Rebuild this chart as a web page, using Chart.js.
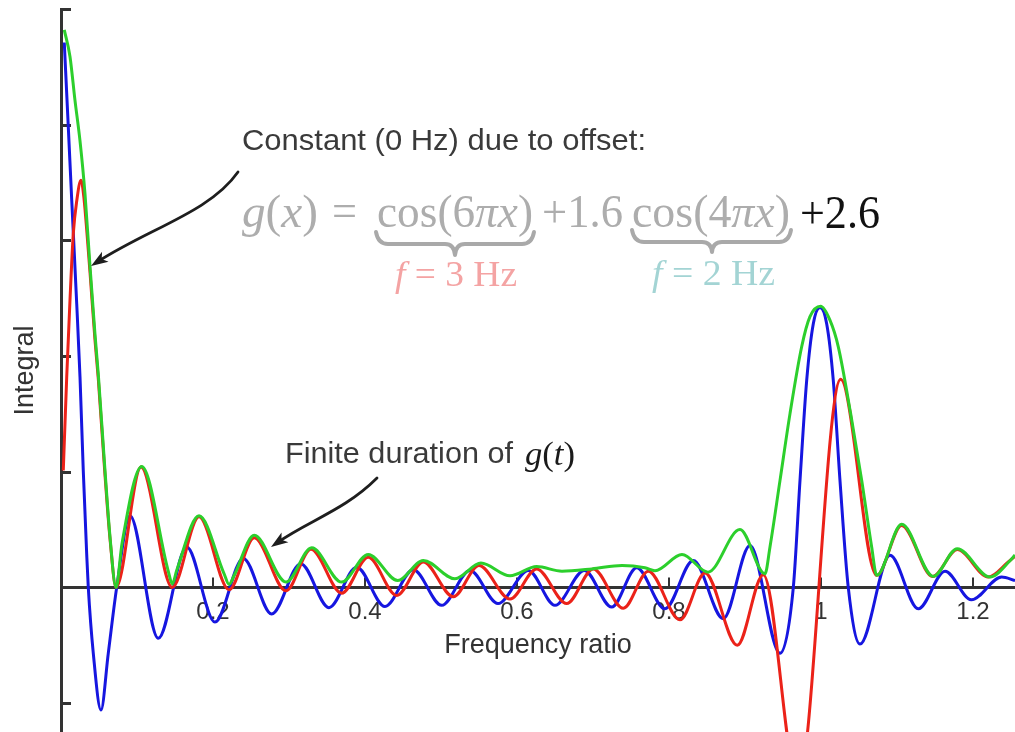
<!DOCTYPE html>
<html><head><meta charset="utf-8">
<script src="https://cdn.jsdelivr.net/npm/chart.js@4.4.1/dist/chart.umd.min.js"></script>
<style>html,body{margin:0;padding:0;background:#fff;overflow:hidden}canvas{display:block}</style>
</head><body>
<canvas id="c" width="1015" height="732"></canvas>
<script>
// ---- tick values / labels ----
const xTicks = [0.2, 0.4, 0.6, 0.8, 1, 1.2];
const xTickLabels = ['0.2', '0.4', '0.6', '0.8', '1', '1.2'];
const yTicks = [-1, 1, 2, 3, 4, 5];

// ---- real part (blue) ----
const realX = [0.0043,0.0096,0.0141,0.0207,0.0250,0.0293,0.0338,0.0359,0.0425,0.0526,0.0622,0.0733,0.0908,0.1280,0.1654,0.2026,0.2399,0.2772,0.3154,0.3526,0.3891,0.4263,0.4636,0.5009,0.5382,0.5750,0.6149,0.6500,0.6886,0.7246,0.7575,0.7947,0.8320,0.8714,0.9066,0.9461,0.9636,0.9724,0.9812,0.9899,0.9987,1.0075,1.0162,1.0250,1.0359,1.0513,1.0908,1.1280,1.1632,1.1978,1.2378,1.2553];
const realY = [4.71,3.98,3.35,2.45,1.82,1.01,0.29,0.0,-0.57,-1.06,-0.57,0.0,0.62,-0.44,0.35,-0.30,0.25,-0.23,0.205,-0.175,0.175,-0.165,0.153,-0.155,0.147,-0.14,0.147,-0.155,0.147,-0.17,0.17,-0.185,0.233,-0.27,0.363,-0.57,0.0,0.925,1.79,2.28,2.42,2.28,1.79,0.925,0.0,-0.49,0.277,-0.185,0.14,-0.107,0.09,0.06];

// ---- imaginary part (red) ----
const imagX = [0.0030,0.0075,0.0118,0.0162,0.0207,0.0263,0.0303,0.0342,0.0382,0.0447,0.0491,0.0579,0.0645,0.0724,0.1053,0.1464,0.1816,0.2211,0.2543,0.2961,0.3289,0.3693,0.4043,0.4417,0.4767,0.5162,0.5500,0.5908,0.6259,0.6654,0.7004,0.7399,0.7728,0.8145,0.8474,0.8899,0.9241,0.9697,1.0259,1.0733,1.1062,1.1470,1.1793,1.2201,1.2464,1.2553];
const imagY = [1.01,1.815,2.48,3.06,3.34,3.52,3.36,3.06,2.72,2.14,1.80,0.97,0.42,0.0,1.04,0.0,0.61,-0.02,0.43,-0.03,0.33,-0.05,0.26,-0.07,0.22,-0.08,0.19,-0.10,0.16,-0.14,0.16,-0.18,0.14,-0.28,0.124,-0.50,0.11,-1.70,1.80,0.104,0.536,0.095,0.327,0.09,0.22,0.27];

// ---- magnitude (green) ----
const magX = [0.0043,0.0118,0.0184,0.0250,0.0316,0.0382,0.0447,0.0491,0.0579,0.0645,0.0724,0.0803,0.1062,0.1408,0.1464,0.1524,0.1816,0.2145,0.2211,0.2276,0.2543,0.2961,0.3299,0.3693,0.4043,0.4430,0.4767,0.5184,0.5526,0.5908,0.6259,0.6592,0.6987,0.7382,0.7684,0.7816,0.8171,0.8513,0.8934,0.9263,0.9329,0.9461,0.9592,0.9746,0.9855,0.9996,1.0118,1.0228,1.0391,1.0536,1.0667,1.0733,1.1062,1.1478,1.1793,1.2224,1.2487,1.2553];
const magY = [4.82,4.59,4.21,3.86,3.40,2.77,2.19,1.84,1.01,0.435,0.0,0.38,1.045,0.15,0.03,0.15,0.62,0.12,0.026,0.10,0.45,0.046,0.343,0.046,0.285,0.06,0.233,0.075,0.21,0.10,0.18,0.14,0.16,0.19,0.17,0.145,0.285,0.132,0.50,0.118,0.35,0.925,1.50,2.08,2.34,2.43,2.31,2.08,1.50,0.925,0.35,0.104,0.545,0.095,0.335,0.09,0.23,0.28];

const SANS = '"Liberation Sans", Arial, Helvetica, sans-serif';
const SERIF = '"Liberation Serif", "DejaVu Serif", serif';
const TXT = '#333333';

function pts(xs, ys) {
  const n = Math.min(xs.length, ys.length);
  const out = [];
  for (let i = 0; i < n; i++) out.push({x: xs[i], y: ys[i]});
  return out;
}

function drawRuns(ctx, runs, x, y, width, size, color, fam) {
  ctx.save();
  const fonts = runs.map(r => (r[1] ? 'italic ' : '') + size + 'px ' + fam);
  const ws = runs.map((r, i) => { ctx.font = fonts[i]; return ctx.measureText(r[0]).width; });
  const total = ws.reduce((a, b) => a + b, 0);
  ctx.translate(x, y);
  ctx.scale(width / total, 1);
  ctx.fillStyle = color;
  ctx.textBaseline = 'alphabetic';
  ctx.textAlign = 'left';
  let cx = 0;
  runs.forEach((r, i) => { ctx.font = fonts[i]; ctx.fillText(r[0], cx, 0); cx += ws[i]; });
  ctx.restore();
}

function brace(ctx, x1, x2, xm, yTop, yMid, yTip) {
  ctx.beginPath();
  ctx.moveTo(x1, yTop);
  ctx.quadraticCurveTo(x1 + 2, yMid, x1 + 12, yMid);
  ctx.lineTo(xm - 10, yMid);
  ctx.quadraticCurveTo(xm - 1, yMid, xm, yTip);
  ctx.quadraticCurveTo(xm + 1, yMid, xm + 10, yMid);
  ctx.lineTo(x2 - 12, yMid);
  ctx.quadraticCurveTo(x2 - 2, yMid, x2, yTop);
  ctx.stroke();
}

function arrow(ctx, p0, p1, p2, p3) {
  const dx = p3[0] - p2[0], dy = p3[1] - p2[1];
  const L = Math.hypot(dx, dy), ux = dx / L, uy = dy / L;
  const hl = 17, hw = 6;
  ctx.beginPath();
  ctx.moveTo(p0[0], p0[1]);
  ctx.bezierCurveTo(p1[0], p1[1], p2[0], p2[1], p3[0] - ux * 8, p3[1] - uy * 8);
  ctx.stroke();
  const bx = p3[0] - ux * hl, by = p3[1] - uy * hl;
  ctx.beginPath();
  ctx.moveTo(p3[0], p3[1]);
  ctx.lineTo(bx - uy * hw, by + ux * hw);
  ctx.lineTo(p3[0] - ux * hl * 0.75, p3[1] - uy * hl * 0.75);
  ctx.lineTo(bx + uy * hw, by - ux * hw);
  ctx.closePath();
  ctx.fill();
}

const decor = {
  id: 'decor',
  beforeDatasetsDraw(chart) {
    const ctx = chart.ctx, xs = chart.scales.x, ys = chart.scales.y;
    const left = chart.chartArea.left;
    ctx.save();
    ctx.strokeStyle = TXT;
    ctx.lineWidth = 3;
    ys.ticks.forEach(t => {
      const py = Math.round(ys.getPixelForValue(t.value)) + 0.5;
      ctx.beginPath(); ctx.moveTo(left - 1, py); ctx.lineTo(left + 10, py); ctx.stroke();
    });
    const y0 = ys.getPixelForValue(0);
    ctx.lineWidth = 2;
    xs.ticks.forEach(t => {
      const px = Math.round(xs.getPixelForValue(t.value));
      ctx.beginPath(); ctx.moveTo(px, y0); ctx.lineTo(px, y0 - 10); ctx.stroke();
    });
    ctx.restore();
  },
  afterDraw(chart) {
    const ctx = chart.ctx;
    ctx.save();
    // annotation texts
    drawRuns(ctx, [['Constant (0 Hz) due to offset:', false]], 242, 150, 404, 30, '#3a3a3a', SANS);
    drawRuns(ctx, [['Finite duration of', false]], 285, 463, 228, 30, '#3a3a3a', SANS);
    drawRuns(ctx, [['g', true], ['(', false], ['t', true], [')', false]], 525, 465, 50, 34, '#1a1a1a', SERIF);
    // formula
    const gray = '#adadad';
    drawRuns(ctx, [['g', true], ['(', false], ['x', true], [')', false]], 242, 227, 76, 46, gray, SERIF);
    drawRuns(ctx, [['=', false]], 332, 226, 25, 46, gray, SERIF);
    drawRuns(ctx, [['cos(6', false], ['\u03C0x', true], [')', false]], 377, 227, 156, 46, gray, SERIF);
    drawRuns(ctx, [['+1.6', false]], 542, 227, 81, 46, gray, SERIF);
    drawRuns(ctx, [['cos(4', false], ['\u03C0x', true], [')', false]], 632, 227, 158, 46, gray, SERIF);
    drawRuns(ctx, [['+2.6', false]], 800, 228, 80, 46, '#111111', SERIF);
    drawRuns(ctx, [['f', true], [' = 3 Hz', false]], 395, 286, 122, 35, '#f4a3a3', SERIF);
    drawRuns(ctx, [['f', true], [' = 2 Hz', false]], 652, 285, 123, 35, '#a3d4d4', SERIF);
    // braces
    ctx.strokeStyle = '#a9a9a9';
    ctx.lineWidth = 4;
    ctx.lineCap = 'round';
    ctx.lineJoin = 'round';
    brace(ctx, 376, 534, 455, 232, 244, 255);
    brace(ctx, 632, 791, 712, 230, 242, 252);
    // arrows
    ctx.strokeStyle = '#1e1e1e';
    ctx.fillStyle = '#1e1e1e';
    ctx.lineWidth = 2.8;
    arrow(ctx, [238, 172], [210, 212], [150, 228], [91, 266]);
    arrow(ctx, [377, 478], [345, 510], [310, 520], [271, 547]);
    ctx.restore();
  }
};

new Chart(document.getElementById('c'), {
  type: 'line',
  data: {
    datasets: [
      { label: 'Magnitude', data: pts(magX, magY), borderColor: '#2ccf2c', order: 0 },
      { label: 'Imaginary', data: pts(imagX, imagY), borderColor: '#eb2219', order: 1 },
      { label: 'Real', data: pts(realX, realY), borderColor: '#1616e0', order: 2 }
    ]
  },
  options: {
    responsive: false,
    animation: false,
    devicePixelRatio: 1,
    layout: { padding: { top: 9, left: 0, right: 0, bottom: 0 } },
    elements: {
      point: { radius: 0 },
      line: { borderWidth: 3, cubicInterpolationMode: 'monotone', fill: false }
    },
    plugins: { legend: { display: false }, tooltip: { enabled: false } },
    scales: {
      x: {
        type: 'linear', min: 0, max: 1.2553,
        position: { y: 0 },
        afterBuildTicks: s => { s.ticks = xTicks.map(v => ({ value: v })); },
        ticks: { callback: (v, i) => xTickLabels[i], font: { size: 24, family: SANS }, color: TXT, padding: 11, maxRotation: 0, autoSkip: false },
        grid: { display: false, drawTicks: false },
        border: { display: true, color: TXT, width: 3 },
        title: { display: true, text: 'Frequency ratio', font: { size: 27, family: SANS }, color: TXT, padding: { top: -9, bottom: 0 } }
      },
      y: {
        type: 'linear', min: -1.25, max: 5,
        afterBuildTicks: s => { s.ticks = yTicks.map(v => ({ value: v })); },
        afterFit: s => { s.width = 61; },
        ticks: { display: false },
        grid: { display: false, drawTicks: false },
        border: { display: true, color: TXT, width: 3 },
        title: { display: true, text: 'Integral', font: { size: 27, family: SANS }, color: TXT, padding: { top: 9, bottom: 0 } }
      }
    }
  },
  plugins: [decor]
});
</script>
</body></html>
